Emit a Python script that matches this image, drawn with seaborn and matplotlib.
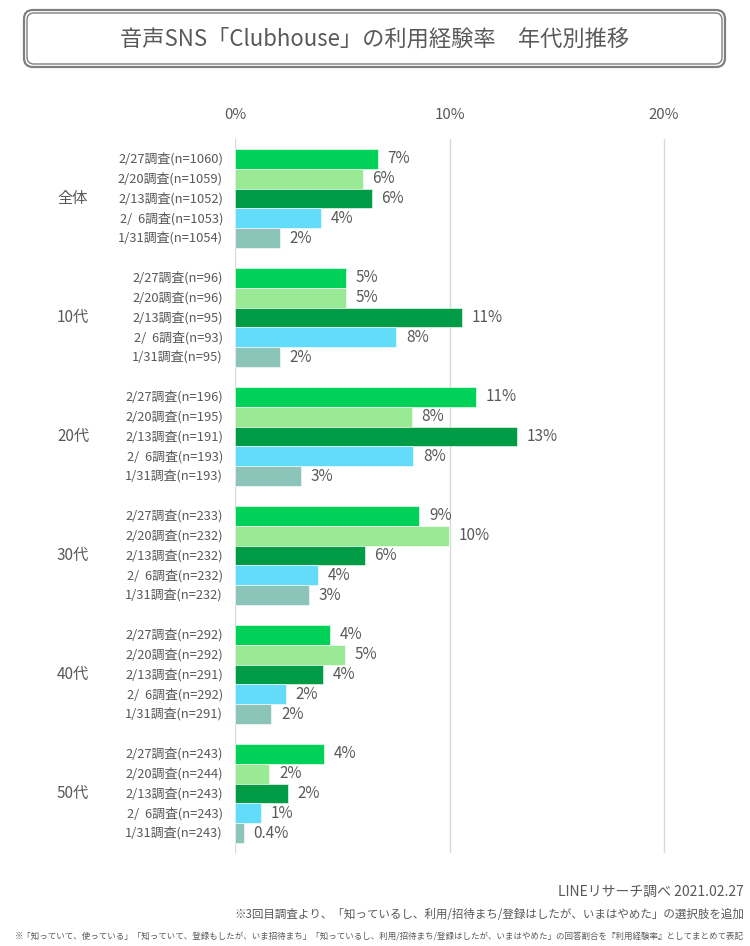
import matplotlib
matplotlib.use("Agg")
import matplotlib.pyplot as plt
import matplotlib.transforms as mtransforms
from matplotlib.patches import FancyBboxPatch
import seaborn as sns
import pandas as pd

# ---------------- data ----------------
groups = ["全体", "10代", "20代", "30代", "40代", "50代"]
surveys = ["2/27調査", "2/20調査", "2/13調査", "2/  6調査", "1/31調査"]

n_2_27 = [1060, 96, 196, 233, 292, 243]
n_2_20 = [1059, 96, 195, 232, 292, 244]
n_2_13 = [1052, 95, 191, 232, 291, 243]
n_2_06 = [1053, 93, 193, 232, 292, 243]
n_1_31 = [1054, 95, 193, 232, 291, 243]

v_2_27 = [6.65, 5.19, 11.25, 8.60, 4.44, 4.13]
v_2_20 = [5.95, 5.19, 8.24, 9.97, 5.14, 1.60]
v_2_13 = [6.37, 10.56, 13.13, 6.04, 4.11, 2.47]
v_2_06 = [4.00, 7.52, 8.32, 3.85, 2.37, 1.23]
v_1_31 = [2.10, 2.10, 3.08, 3.46, 1.70, 0.40]

lab_2_27 = ["7%", "5%", "11%", "9%", "4%", "4%"]
lab_2_20 = ["6%", "5%", "8%", "10%", "5%", "2%"]
lab_2_13 = ["6%", "11%", "13%", "6%", "4%", "2%"]
lab_2_06 = ["4%", "8%", "8%", "4%", "2%", "1%"]
lab_1_31 = ["2%", "2%", "3%", "3%", "2%", "0.4%"]

x_ticks = [0, 10, 20]
x_tick_labels = ["0%", "10%", "20%"]

colors = ["#00D259", "#9AEA95", "#009B45", "#62DCF8", "#8CC4BA"]

title = "音声SNS「Clubhouse」の利用経験率　年代別推移"
source = "LINEリサーチ調べ 2021.02.27"
note1 = "※3回目調査より、「知っているし、利用/招待まち/登録はしたが、いまはやめた」の選択肢を追加"
note2 = ("※「知っていて、使っている」「知っていて、登録もしたが、いま招待まち」「知っているし、利用/招待まち/登録はしたが、いまはやめた」"
         "の回答割合を『利用経験率』としてまとめて表記")

n_all = [n_2_27, n_2_20, n_2_13, n_2_06, n_1_31]
v_all = [v_2_27, v_2_20, v_2_13, v_2_06, v_1_31]
lab_all = [lab_2_27, lab_2_20, lab_2_13, lab_2_06, lab_1_31]

rows = []
for s, vals in zip(surveys, v_all):
    for g, v in zip(groups, vals):
        rows.append({"group": g, "survey": s, "value": v})
df = pd.DataFrame(rows)

# ---------------- style ----------------
sns.set_theme(style="white")
plt.rcParams["font.family"] = ["Noto Sans CJK JP", "DejaVu Sans"]
TXT = "#595959"

W, H = 750, 946
fig = plt.figure(figsize=(W / 100, H / 100), dpi=100)

ax_left, ax_right = 235, 235 + 22 * 21.45
ax_top, ax_bottom = 139, 853
ax = fig.add_axes([ax_left / W, 1 - ax_bottom / H, (ax_right - ax_left) / W, (ax_bottom - ax_top) / H])

sns.barplot(data=df, y="group", x="value", hue="survey", order=groups, hue_order=surveys,
            palette=colors, orient="h", width=5 / 6, ax=ax, legend=False,
            edgecolor="white", linewidth=0.4, saturation=1)

ax.set_xlim(0, 22)
ax.set_ylim(5.5, -0.5)
ax.set_xticks(x_ticks)
ax.set_xticklabels(x_tick_labels)
ax.xaxis.tick_top()
ax.tick_params(axis="x", length=0, pad=12, labelsize=10.8, labelcolor=TXT)
ax.set_yticks([])
ax.set_xlabel("")
ax.set_ylabel("")
for sp in ax.spines.values():
    sp.set_visible(False)
ax.grid(axis="x", color="#D9D9D9", linewidth=1)
ax.set_axisbelow(True)

# value labels and per-bar survey labels
lab_trans = mtransforms.offset_copy(ax.transData, fig=fig, x=-12, y=0, units="dots")
for ci, cont in enumerate(ax.containers):
    ax.bar_label(cont, labels=lab_all[ci], padding=7, fontsize=11, color=TXT)
    for gi, patch in enumerate(cont.patches):
        yc = patch.get_y() + patch.get_height() / 2
        txt = f"{surveys[ci]}(n={n_all[ci][gi]})"
        ax.text(0, yc, txt, transform=lab_trans, ha="right", va="center",
                fontsize=9.3, color=TXT)

# group labels
grp_trans = mtransforms.blended_transform_factory(fig.transFigure, ax.transData)
for gi, g in enumerate(groups):
    ax.text(73 / W, gi, g, transform=grp_trans, ha="center", va="center",
            fontsize=11, color=TXT)

# title box (double rounded border)
def fbox(x0, y0, x1, y1, lw, r):
    return FancyBboxPatch((x0 / W, 1 - y1 / H), (x1 - x0) / W, (y1 - y0) / H,
                          boxstyle=f"round,pad=0,rounding_size={r / W}",
                          transform=fig.transFigure, fill=False,
                          edgecolor="#7F7F7F", linewidth=lw, mutation_aspect=W / H)
fig.patches.append(fbox(24, 10, 725, 67, 1.6, 9))
fig.patches.append(fbox(27, 13, 722, 64, 1.0, 7))
fig.text(375 / W, 1 - 39 / H, title, ha="center", va="center", fontsize=16, color=TXT)

# footer
fig.text(744 / W, 1 - 892 / H, source, ha="right", va="center", fontsize=10, color=TXT)
fig.text(744 / W, 1 - 914 / H, note1, ha="right", va="center", fontsize=8.3, color=TXT)
fig.text(744 / W, 1 - 937 / H, note2, ha="right", va="center", fontsize=6.1, color=TXT)

fig.savefig("out.png", dpi=100)
